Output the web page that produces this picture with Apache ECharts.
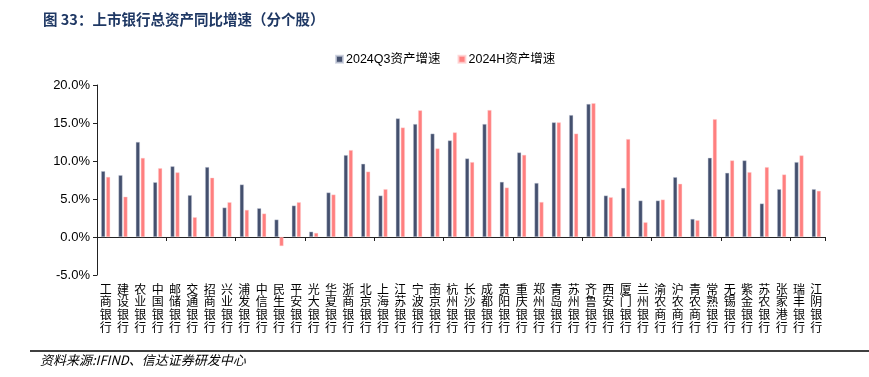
<!DOCTYPE html>
<html>
<head>
<meta charset="utf-8">
<script src="https://cdn.jsdelivr.net/npm/echarts@6/dist/echarts.min.js"></script>
<style>html,body{margin:0;padding:0;background:#fff;}#c{width:869px;height:377px;}</style>
</head>
<body>
<div id="c"></div>
<script>
const categories = ['工商银行','建设银行','农业银行','中国银行','邮储银行','交通银行','招商银行','兴业银行','浦发银行','中信银行','民生银行','平安银行','光大银行','华夏银行','浙商银行','北京银行','上海银行','江苏银行','宁波银行','南京银行','杭州银行','长沙银行','成都银行','贵阳银行','重庆银行','郑州银行','青岛银行','苏州银行','齐鲁银行','西安银行','厦门银行','兰州银行','渝农商行','沪农商行','青农商行','常熟银行','无锡银行','紫金银行','苏农银行','张家港行','瑞丰银行','江阴银行'];
const seriesNames = ['2024Q3资产增速', '2024H资产增速'];
const q3Growth = [8.66,8.13,12.5,7.2,9.3,5.5,9.2,3.87,6.9,3.78,2.29,4.13,0.7,5.85,10.77,9.63,5.45,15.6,14.86,13.6,12.7,10.33,14.86,7.25,11.12,7.1,15.08,16.04,17.5,5.45,6.46,4.79,4.79,7.87,2.37,10.42,8.44,10.07,4.4,6.29,9.85,6.29];
const hGrowth = [7.9,5.3,10.4,9.05,8.5,2.6,7.8,4.57,3.56,3.08,-1.19,4.57,0.53,5.58,11.43,8.6,6.29,14.4,16.66,11.65,13.76,9.85,16.7,6.5,10.8,4.6,15.08,13.6,17.6,5.23,12.88,1.93,4.92,7.0,2.2,15.5,10.07,8.53,9.19,8.22,10.73,6.07];
const yMin = -5, yMax = 20, yStep = 5;

const chart = echarts.init(document.getElementById('c'), null, {renderer: 'canvas'});
const latin = 'Liberation Sans, Arial, Noto Sans CJK SC, sans-serif';
const cjk = 'Noto Sans CJK SC, sans-serif';
chart.setOption({
  animation: false,
  backgroundColor: '#fff',
  title: {
    text: '图 33：上市银行总资产同比增速（分个股）',
    left: 38, top: 7,
    textStyle: {fontFamily: cjk, fontSize: 14.5, fontWeight: 'bold', color: '#1f3864'}
  },
  legend: {
    data: seriesNames,
    left: 330, top: 48,
    itemWidth: 7, itemHeight: 7, itemGap: 17,
    icon: 'rect',
    textStyle: {fontFamily: latin, fontSize: 12.5, color: '#000', padding: [0, 0, 0, -2]}
  },
  grid: {left: 97, right: 44, top: 85, bottom: 102},
  xAxis: [{
    type: 'category', data: categories,
    axisLine: {onZero: true, lineStyle: {color: '#222', width: 1.2}},
    axisTick: {show: true, alignWithLabel: false, length: 4, inside: false, lineStyle: {color: '#222'}},
    axisLabel: {show: false}
  }, {
    type: 'category', data: categories, position: 'bottom',
    axisLine: {show: false, onZero: false},
    axisTick: {show: false},
    axisLabel: {
      interval: 0, margin: 8, fontFamily: cjk, fontSize: 12, lineHeight: 12.6, color: '#000',
      formatter: v => v.split('').join('\n')
    }
  }],
  yAxis: {
    type: 'value', min: yMin, max: yMax, interval: yStep,
    axisLine: {show: true, lineStyle: {color: '#222'}},
    axisTick: {show: true, length: 4, lineStyle: {color: '#222'}},
    splitLine: {show: false},
    axisLabel: {fontFamily: latin, fontSize: 13, color: '#000', margin: 7,
      formatter: v => v.toFixed(1) + '%'}
  },
  series: [{
    name: seriesNames[0], type: 'bar', data: q3Growth, xAxisIndex: 0,
    barWidth: 4, barGap: '25%',
    itemStyle: {color: '#44506e', borderColor: 'rgba(200,205,220,0.8)', borderWidth: 0.5}
  }, {
    name: seriesNames[1], type: 'bar', data: hGrowth, xAxisIndex: 0,
    barWidth: 4, barGap: '25%',
    itemStyle: {color: '#ff7f7f', borderColor: 'rgba(255,210,210,0.8)', borderWidth: 0.5}
  }],
  graphic: [{
    type: 'line', shape: {x1: 30, y1: 351, x2: 869, y2: 351},
    style: {stroke: '#000', lineWidth: 1.5}
  }, {
    type: 'text', left: 40, top: 354,
    style: {text: '资料来源:IFIND、信达证券研发中心', fontFamily: cjk, fontSize: 13, fontStyle: 'italic', fill: '#000'}
  }]
});
</script>
</body>
</html>
